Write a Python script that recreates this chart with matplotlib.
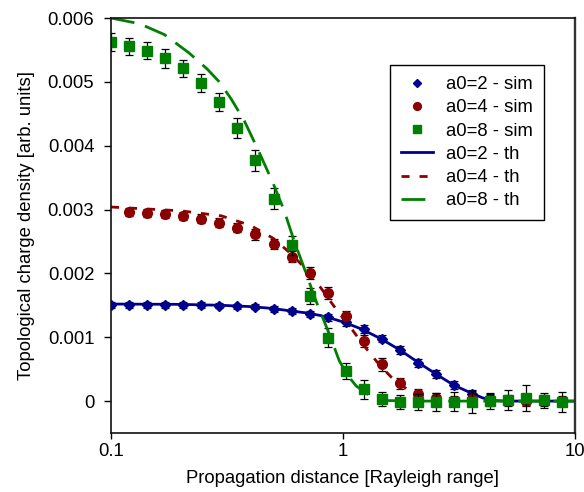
import numpy as np
import matplotlib
matplotlib.use('Agg')
import matplotlib.pyplot as plt
from matplotlib.ticker import FuncFormatter, NullLocator

plt.rcParams['font.family'] = 'Liberation Sans'
plt.rcParams['font.size'] = 13.3

# propagation distance of the simulation points [Rayleigh range]
z_sim = [0.1, 0.12, 0.143, 0.171, 0.205, 0.245, 0.293, 0.351, 0.419, 0.502,
         0.600, 0.718, 0.859, 1.028, 1.229, 1.471, 1.759, 2.105, 2.518, 3.012,
         3.603, 4.311, 5.157, 6.169, 7.380, 8.829]

# simulated topological charge density (x1e-3)
sim_a2 = [1.505, 1.505, 1.505, 1.505, 1.505, 1.505, 1.494, 1.483, 1.478, 1.441,
          1.415, 1.363, 1.31, 1.231, 1.127, 0.98, 0.80, 0.60, 0.42, 0.247,
          0.115, 0.05, 0.0, 0.0, 0.0, 0.0]
err_a2 = [0.04, 0.04, 0.04, 0.04, 0.04, 0.04, 0.04, 0.04, 0.04, 0.045,
          0.045, 0.05, 0.05, 0.05, 0.06, 0.06, 0.06, 0.06, 0.06, 0.06,
          0.06, 0.06, 0.06, 0.06, 0.06, 0.06]

# a0=4 has no point at z=0.1
z_sim_a4 = z_sim[1:]
sim_a4 = [2.96, 2.945, 2.935, 2.90, 2.855, 2.79, 2.715, 2.61, 2.46, 2.264,
          2.01, 1.69, 1.336, 0.94, 0.577, 0.278, 0.115, 0.042, 0.0, 0.026,
          0.01, 0.01, 0.0, 0.01, 0.0]
err_a4 = [0.06, 0.06, 0.06, 0.06, 0.07, 0.07, 0.07, 0.08, 0.08, 0.09,
          0.09, 0.09, 0.08, 0.10, 0.10, 0.09, 0.08, 0.08, 0.08, 0.08,
          0.08, 0.08, 0.08, 0.08, 0.08]

sim_a8 = [5.62, 5.555, 5.49, 5.37, 5.21, 4.98, 4.685, 4.28, 3.77, 3.17,
          2.44, 1.65, 0.995, 0.47, 0.184, 0.027, -0.016, -0.016, -0.01, -0.01,
          -0.016, 0.0, 0.01, 0.05, 0.016, -0.016]
err_a8 = [0.141, 0.137, 0.138, 0.146, 0.138, 0.145, 0.146, 0.152, 0.162, 0.165,
          0.146, 0.129, 0.145, 0.126, 0.145, 0.110, 0.113, 0.130, 0.138, 0.149,
          0.168, 0.129, 0.157, 0.209, 0.118, 0.152]

# theory curves (x1e-3)
z_th_a2 = [0.1, 0.2, 0.3, 0.4, 0.5, 0.6, 0.7, 0.8, 0.9, 1.0, 1.2, 1.45, 1.76,
           2.1, 2.5, 3.0, 3.6, 4.0, 4.4, 5.0, 10.0]
th_a2 = [1.52, 1.515, 1.50, 1.48, 1.45, 1.41, 1.38, 1.34, 1.29, 1.24, 1.13,
         0.98, 0.80, 0.61, 0.43, 0.25, 0.12, 0.05, 0.01, 0.0, 0.0]

z_th_a4 = [0.1, 0.2, 0.3, 0.4, 0.5, 0.6, 0.7, 0.8, 0.9, 1.0, 1.1, 1.2, 1.34,
           1.45, 1.61, 1.76, 1.93, 2.1, 2.5, 3.0, 10.0]
th_a4 = [3.04, 2.98, 2.90, 2.75, 2.55, 2.30, 2.05, 1.78, 1.52, 1.30, 1.11,
         0.92, 0.70, 0.55, 0.38, 0.27, 0.16, 0.10, 0.03, 0.0, 0.0]

z_th_a8 = [0.1, 0.133, 0.17, 0.2175, 0.26, 0.293, 0.33, 0.3755, 0.43, 0.5,
           0.557, 0.617, 0.681, 0.765, 0.873, 0.964, 1.05, 1.14, 1.3, 1.48,
           2.0, 10.0]
th_a8 = [6.0, 5.91, 5.74, 5.45, 5.2, 5.0, 4.73, 4.39, 3.94, 3.41,
         2.99, 2.50, 2.08, 1.57, 1.05, 0.63, 0.40, 0.236, 0.09, 0.01,
         0.0, 0.0]

c2 = '#000090'
c4 = '#8B0000'
c8 = '#008000'

fig, ax = plt.subplots(figsize=(5.84, 4.92), dpi=100)
fig.subplots_adjust(left=0.190, right=0.9846, top=0.9634, bottom=0.1199)

s = 1e-3
series = [
    (z_sim, sim_a2, err_a2, 'D', 5.5, c2, 'a0=2 - sim', z_th_a2, th_a2, '-', 'a0=2 - th'),
    (z_sim_a4, sim_a4, err_a4, 'o', 7, c4, 'a0=4 - sim', z_th_a4, th_a4, (0, (2.9, 3.6)), 'a0=4 - th'),
    (z_sim, sim_a8, err_a8, 's', 6.5, c8, 'a0=8 - sim', z_th_a8, th_a8, (0, (8.6, 4)), 'a0=8 - th'),
]
sim_h = []
th_h = []
for z, y, e, mk, ms, col, lab, zt, yt, ls, labt in series:
    ax.errorbar(z, np.array(y) * s, yerr=np.array(e) * s, fmt='none',
                ecolor='black', elinewidth=0.9, capsize=2.6, capthick=0.9)
    h, = ax.plot(z, np.array(y) * s, ls='none', marker=mk, ms=ms, color=col, label=lab)
    sim_h.append(h)
    ht, = ax.plot(zt, np.array(yt) * s, ls=ls, lw=2.0, color=col, label=labt)
    th_h.append(ht)

ax.set_xscale('log')
ax.set_xlim(0.1, 10)
ax.set_ylim(-0.0005, 0.006)
ax.set_yticks([0, 0.001, 0.002, 0.003, 0.004, 0.005, 0.006])
ax.xaxis.set_minor_locator(NullLocator())
ax.xaxis.set_major_formatter(FuncFormatter(lambda v, p: '%g' % v))
ax.yaxis.set_major_formatter(FuncFormatter(lambda v, p: '%g' % v))
ax.tick_params(axis='y', direction='out', length=5, width=1, pad=7)
ax.tick_params(axis='x', direction='out', length=4, width=1, pad=3.5)

for sp in ['left', 'bottom', 'top']:
    ax.spines[sp].set_linewidth(1.2)
    ax.spines[sp].set_color('#111111')
ax.spines['right'].set_linewidth(1.7)
ax.spines['right'].set_color('#333333')

ax.set_xlabel('Propagation distance [Rayleigh range]', labelpad=7)
ax.set_ylabel('Topological charge density [arb. units]', labelpad=9)

leg = ax.legend(sim_h + th_h, [h.get_label() for h in sim_h + th_h],
                loc='upper right', bbox_to_anchor=(0.933, 0.887), borderaxespad=0,
                numpoints=1, markerscale=0.8, handlelength=1.75, handletextpad=0.7,
                labelspacing=0.34, borderpad=0.6, fancybox=False, framealpha=1,
                edgecolor='black')
leg.get_frame().set_linewidth(1.0)

plt.savefig('out.png', dpi=100)
